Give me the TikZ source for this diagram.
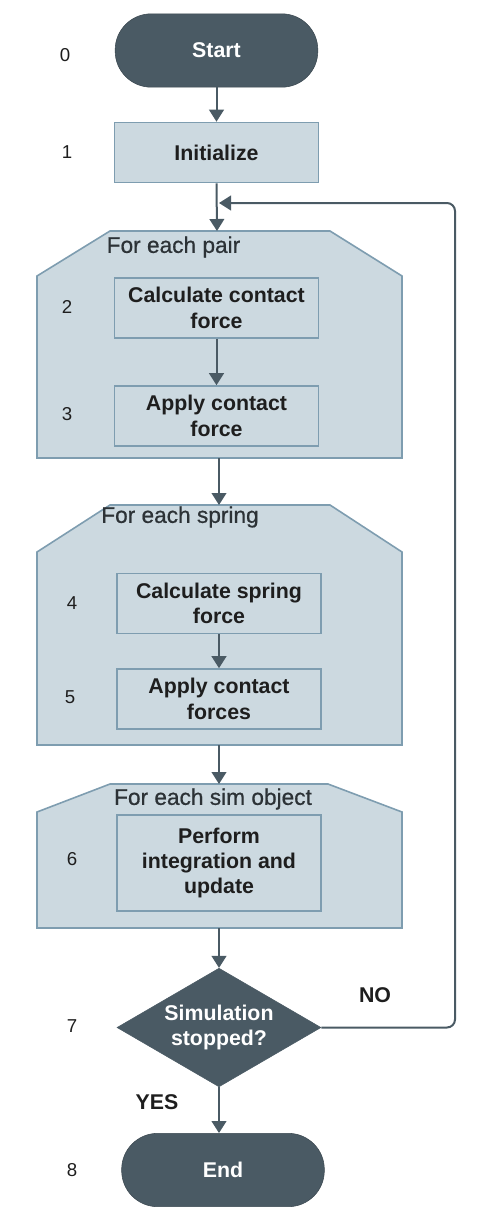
\documentclass[tikz,border=0pt]{standalone}
\usepackage{fontspec}
\setmainfont{Liberation Sans}
\newfontfamily\titlefont[FakeBold=0.7]{Liberation Sans}
\usetikzlibrary{arrows.meta}
\usetikzlibrary{shapes.geometric}

\definecolor{slate}{HTML}{4A5A64}
\definecolor{paleblue}{HTML}{CCD9E0}
\definecolor{edgeblue}{HTML}{7E9DB0}
\definecolor{inkgray}{HTML}{1E1E1E}
\definecolor{titlegray}{HTML}{2C3236}

\tikzset{
	terminal/.style={draw=slate!80!black, fill=slate, text=white, rounded corners=27pt,
		minimum width=152pt, minimum height=55pt, font=\fontsize{16}{19}\selectfont\bfseries},
	stepbox/.style={draw=edgeblue, fill=paleblue, line width=1.2pt, text=inkgray, align=center,
		minimum width=153pt, minimum height=45pt, font=\fontsize{16}{19}\selectfont\bfseries},
	decision/.style={diamond, draw=slate, fill=slate, text=white, align=center, inner sep=0pt,
		aspect=1.714, minimum width=153pt, minimum height=89pt, font=\fontsize{16}{19}\selectfont\bfseries},
	container/.style={draw=edgeblue, fill=paleblue, line width=1.2pt},
	looptitle/.style={text=titlegray, inner sep=0pt, font=\titlefont\fontsize{17}{20}\selectfont},
	stepnum/.style={text=inkgray, font=\fontsize{14}{17}\selectfont},
	answer/.style={text=inkgray, font=\fontsize{16}{19}\selectfont\bfseries},
	flow/.style={draw=slate, line width=1.5pt, -{Triangle[width=11pt,length=9pt]}}
}

\begin{document}
\begin{tikzpicture}[x=0.75pt, y=-0.75pt]
	\useasboundingbox (0,0) rectangle (478,1232);

	% draw loop containers
	\draw[container] (37,276) -- (110,231) -- (330,231) -- (402,276) -- (402,458) -- (37,458) -- cycle;
	\draw[container] (37,552) -- (110,505) -- (330,505) -- (402,552) -- (402,745) -- (37,745) -- cycle;
	\draw[container] (37,812) -- (110,784) -- (328,784) -- (402,812) -- (402,928) -- (37,928) -- cycle;
	\coordinate (pairTop) at (217,231);
	\coordinate (pairBot) at (219,458);
	\coordinate (springTop) at (219,505);
	\coordinate (springBot) at (219,745);
	\coordinate (simTop) at (219,784);
	\coordinate (simBot) at (219,928);

	% loop titles
	\node[looptitle] (pairTitle) at (173.5,247) {For each pair};
	\node[looptitle] (springTitle) at (180,517) {For each spring};
	\node[looptitle] (simTitle) at (213,799) {For each sim object};

	% draw the steps
	\node[terminal] (start) at (216.5,50.5) {Start};
	\node[stepbox] (init) at (216.5,152.5) {Initialize};
	\node[stepbox] (calcContact) at (216.5,308) {Calculate contact\\force};
	\node[stepbox] (applyContact) at (216.5,416) {Apply contact\\force};
	\node[stepbox] (calcSpring) at (219,603.5) {Calculate spring\\force};
	\node[stepbox] (applySpring) at (219,699) {Apply contact\\forces};
	\node[stepbox, minimum height=72pt] (perform) at (219,863) {Perform\\integration and\\update};
	\node[decision] (stopped) at (219,1027.5) {Simulation\\stopped?};
	\node[terminal] (end) at (223,1170) {End};

	% step numbers
	\node[stepnum] (n0) at (65,55) {0};
	\node[stepnum] (n1) at (67,152) {1};
	\node[stepnum] (n2) at (67,307) {2};
	\node[stepnum] (n3) at (67,414) {3};
	\node[stepnum] (n4) at (72,603) {4};
	\node[stepnum] (n5) at (70,697) {5};
	\node[stepnum] (n6) at (72,859) {6};
	\node[stepnum] (n7) at (72,1026) {7};
	\node[stepnum] (n8) at (72,1170) {8};

	% answers
	\node[answer] (no) at (375,995) {NO};
	\node[answer] (yes) at (157,1102) {YES};

	% draw the flow
	\draw[flow] (start.south) -- (init.north);
	\draw[flow] (init.south) -- (pairTop);
	\draw[flow] (calcContact.south) -- (applyContact.north);
	\draw[flow] (pairBot) -- (springTop);
	\draw[flow] (calcSpring.south) -- (applySpring.north);
	\draw[flow] (springBot) -- (simTop);
	\draw[flow] (simBot) -- (stopped.north);
	\draw[flow] (stopped.south) -- (stopped.south |- end.north);

	% loop back
	\coordinate (loopTop) at (455,203);
	\coordinate (loopIn) at (219,203);
	\draw[flow, rounded corners=6pt] (stopped.east) -| (loopTop) -- (loopIn);
\end{tikzpicture}
\end{document}
